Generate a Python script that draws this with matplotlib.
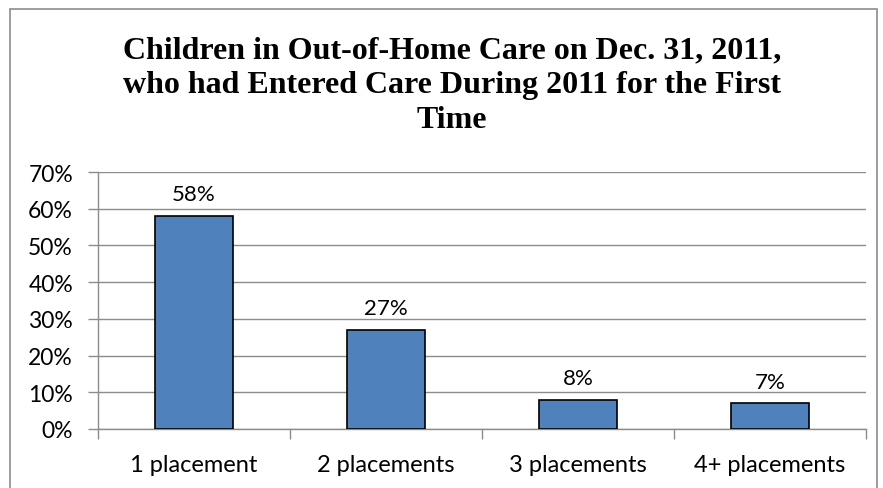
import matplotlib.pyplot as plt
import numpy as np
from matplotlib.patches import Rectangle

# data
categories = ["1 placement", "2 placements", "3 placements", "4+ placements"]
shares = [58, 27, 8, 7]
y_ticks = [0, 10, 20, 30, 40, 50, 60, 70]

TITLE = ("Children in Out-of-Home Care on Dec. 31, 2011,\n"
         "who had Entered Care During 2011 for the First\n"
         "Time")

fig = plt.figure(figsize=(8.83, 4.89), dpi=100)
ax = fig.add_axes([98 / 883, 1 - 430 / 489, 768 / 883, 257 / 489])

x = np.arange(len(categories))
ax.bar(x, shares, width=0.41, color="#4F81BD", edgecolor="black", linewidth=1.2, zorder=3)

for xi, v in zip(x, shares):
    ax.text(xi, v + 3.2, f"{v}%", ha="center", va="bottom",
            fontsize=16, family="Lato", color="black")

ax.set_xlim(-0.5, len(categories) - 0.5)
ax.set_ylim(0, 70)
ax.set_yticks(y_ticks)
ax.set_yticklabels([f"{t}%" for t in y_ticks], family="Lato", fontsize=16.5)
ax.yaxis.grid(True, color="#8c8c8c", linewidth=1, zorder=0)

# category ticks sit between the bars
ax.set_xticks(np.arange(len(categories) + 1) - 0.5)
ax.set_xticklabels([])
ax.set_xticks(x, minor=True)
ax.set_xticklabels(categories, minor=True, family="Lato", fontsize=17)
ax.tick_params(axis="x", which="minor", length=0, pad=18)
ax.tick_params(axis="x", which="major", length=7, color="#8c8c8c", width=1)
ax.tick_params(axis="y", length=7, color="#8c8c8c", width=1, pad=11)

for side in ["top", "right"]:
    ax.spines[side].set_visible(False)
for side in ["left", "bottom"]:
    ax.spines[side].set_color("#8c8c8c")
    ax.spines[side].set_linewidth(1)

fig.text(0.512, 1 - 36 / 489, TITLE, ha="center", va="top",
         family="Liberation Serif", fontweight="bold", fontsize=23,
         linespacing=1.28)

# chart border
fig.patches.append(Rectangle((10 / 883, -0.05), 867 / 883, 1 - 10 / 489 + 0.05,
                             transform=fig.transFigure, fill=False,
                             edgecolor="#8c8c8c", linewidth=1.2))

fig.savefig("out.png", dpi=100)
